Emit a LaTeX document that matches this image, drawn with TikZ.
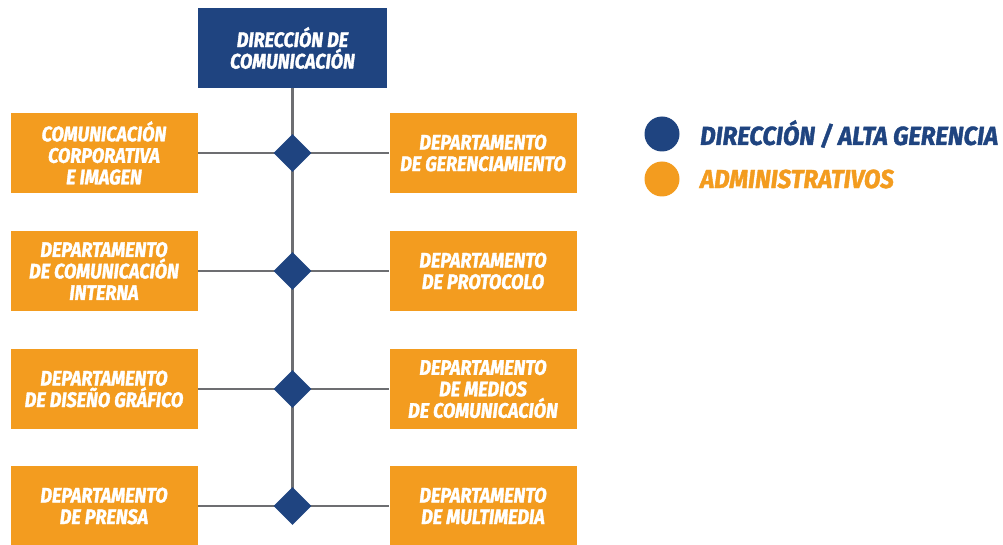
\documentclass[tikz,border=0pt]{standalone}
\usepackage{fontspec}
\usetikzlibrary{shapes.geometric,backgrounds}
\newfontfamily\orgfont[FakeStretch=0.86,FakeBold=1.6]{Fira Sans}
\newfontfamily\legfont[FakeStretch=0.925,FakeBold=1.6]{Fira Sans}
\definecolor{navy}{HTML}{1F4480}
\definecolor{orangebox}{HTML}{F39C1F}
\definecolor{linegray}{HTML}{6D6E71}
\tikzset{
  orgbox/.style={fill=orangebox, text=white, minimum width=187pt, minimum height=80pt,
    inner sep=0pt, align=center, font=\orgfont\bfseries\itshape\fontsize{21}{21.5}\selectfont},
  topbox/.style={orgbox, fill=navy, minimum width=189pt},
  knot/.style={diamond, fill=navy, minimum width=38pt, minimum height=38pt, inner sep=0pt},
  link/.style={draw=linegray, line width=2.6pt},
  legdot/.style={circle, minimum size=35pt, inner sep=0pt},
  legtext/.style={anchor=west, inner sep=0pt, font=\legfont\bfseries\itshape\fontsize{26}{28}\selectfont}
}
\begin{document}
\begin{tikzpicture}[x=1pt,y=-1pt]
\useasboundingbox (0,0) rectangle (1003,545);
\node[topbox] (top) at (292.5,48) {DIRECCIÓN DE\\COMUNICACIÓN};
\node[orgbox] (L1) at (104,153) {COMUNICACIÓN\\CORPORATIVA\\E IMAGEN};
\node[orgbox] (R1) at (483,153) {DEPARTAMENTO\\DE GERENCIAMIENTO};
\node[orgbox] (L2) at (104,271) {DEPARTAMENTO\\DE COMUNICACIÓN\\INTERNA};
\node[orgbox] (R2) at (483,271) {DEPARTAMENTO\\DE PROTOCOLO};
\node[orgbox] (L3) at (104,389) {DEPARTAMENTO\\DE DISEÑO GRÁFICO};
\node[orgbox] (R3) at (483,389) {DEPARTAMENTO\\DE MEDIOS\\DE COMUNICACIÓN};
\node[orgbox] (L4) at (104,506) {DEPARTAMENTO\\DE PRENSA};
\node[orgbox] (R4) at (483,506) {DEPARTAMENTO\\DE MULTIMEDIA};
\node[knot] (D1) at (292.5,153) {};
\node[knot] (D2) at (292.5,271) {};
\node[knot] (D3) at (292.5,389) {};
\node[knot] (D4) at (292.5,506) {};
\begin{scope}[on background layer]
  \draw[link] (top.south) -- (D4.center);
  \draw[link] (L1.east) -- (R1.west);
  \draw[link] (L2.east) -- (R2.west);
  \draw[link] (L3.east) -- (R3.west);
  \draw[link] (L4.east) -- (R4.west);
\end{scope}
\node[legdot, fill=navy] (dotA) at (662,134) {};
\node[legdot, fill=orangebox] (dotB) at (662,179) {};
\node[legtext, text=navy] (legA) at (700,134) {DIRECCIÓN / ALTA GERENCIA};
\node[legtext, text=orangebox] (legB) at (700,179) {ADMINISTRATIVOS};
\end{tikzpicture}
\end{document}
